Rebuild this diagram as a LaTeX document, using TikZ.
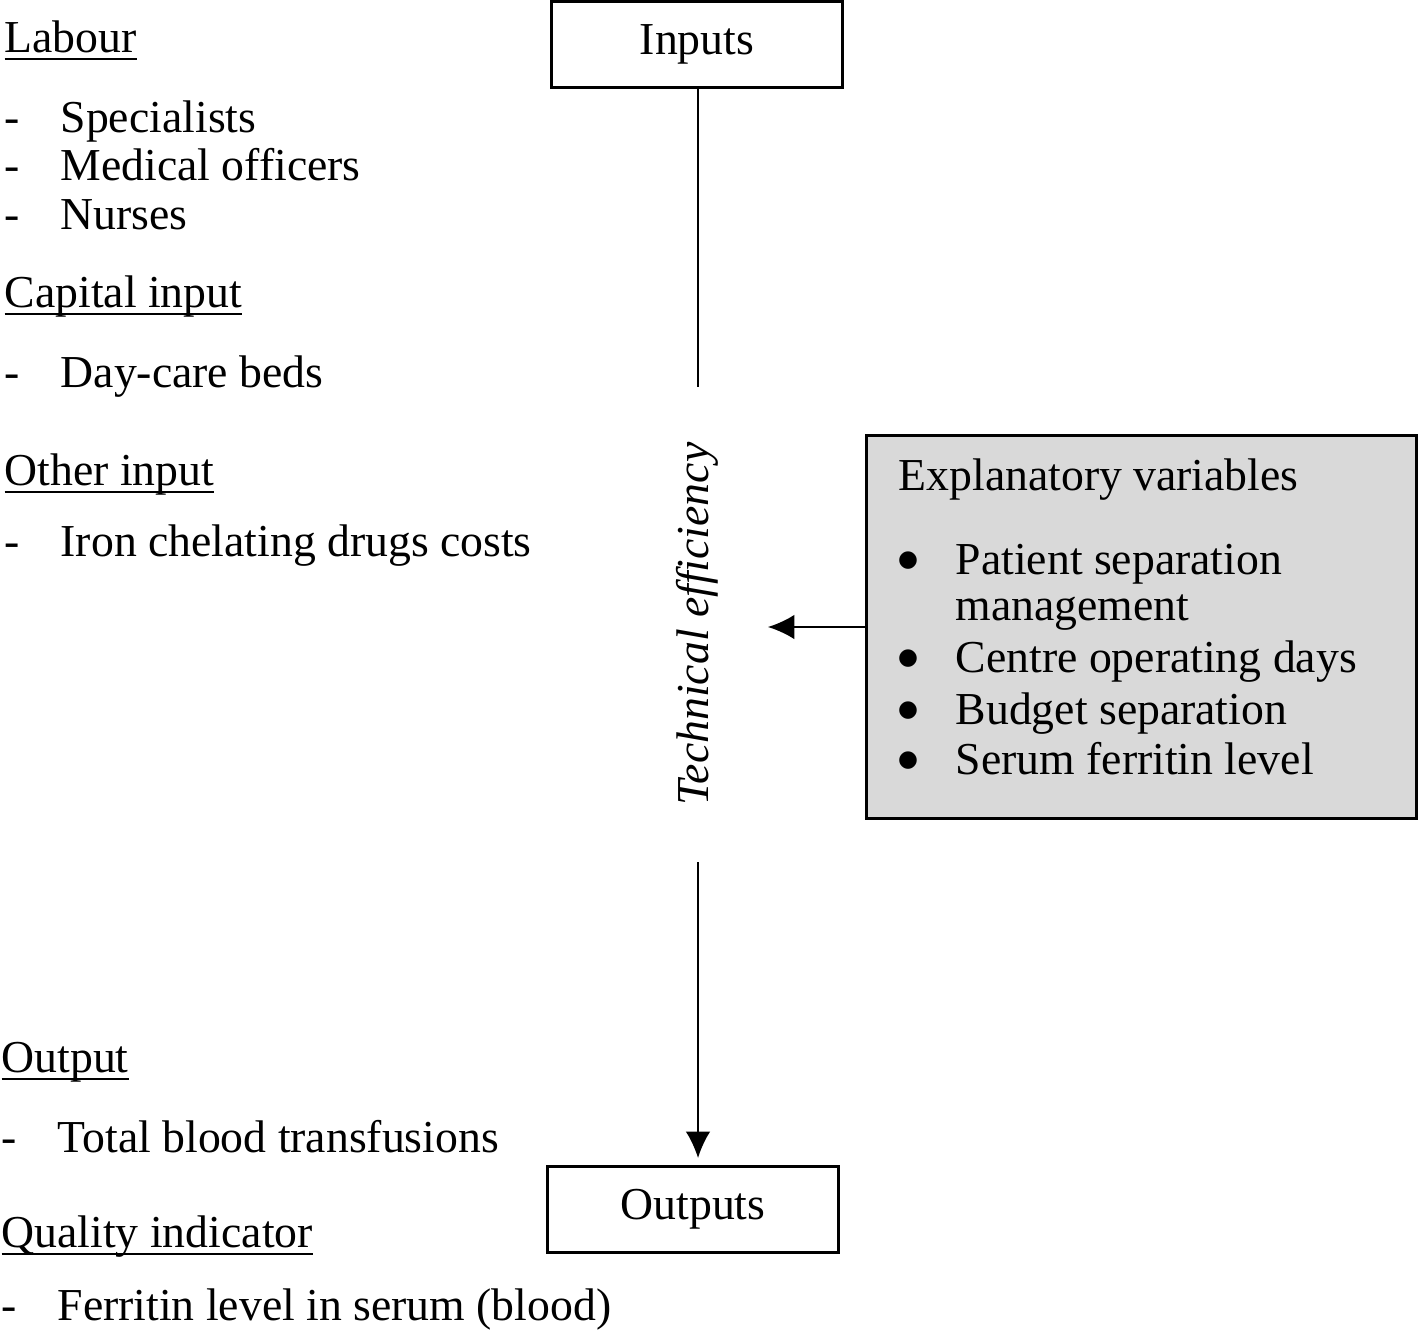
\documentclass[tikz,border=0pt]{standalone}
\usepackage{fontspec}
\setmainfont{Liberation Serif}
\newfontfamily\symfont{DejaVu Sans}
\usetikzlibrary{arrows.meta}
\definecolor{boxgray}{RGB}{217,217,217}
\newcommand\hdr[1]{\setbox0\hbox{#1}\rlap{\rule[-2.3pt]{\wd0}{0.6pt}}\box0}
\tikzset{
	every node/.style={font=\fontsize{13pt}{15pt}\selectfont},
	box/.style={draw,line width=0.85pt,minimum width=2.9cm,minimum height=0.86cm,inner sep=0pt},
	txt/.style={anchor=base west,inner sep=0pt},
	bul/.style={anchor=center,inner sep=0pt,font=\fontsize{6.5pt}{7pt}\symfont},
	flow/.style={line width=0.55pt,-{Latex[length=7.5pt,width=7pt]}}
}
\begin{document}
\begin{tikzpicture}[x=0.01cm,y=-0.01cm]
	\useasboundingbox (0,0) rectangle (1418,1333);
	% main column
	\node[box] (inputs) at (697,44.5) {Inputs};
	\node[box] (outputs) at (693,1209.5) {Outputs};
	\node[rotate=90,inner sep=0pt,font=\fontsize{13pt}{15pt}\selectfont\itshape] (eff) at (697,624) {Technical efficiency};
	\coordinate (top) at (698,387);
	\coordinate (low) at (698,862);
	\coordinate (tip) at (768,627);
	\draw[line width=0.55pt] (inputs.south -| top) -- (top);
	\draw[flow] (low) -- ([yshift=2pt]low |- outputs.north);
	% explanatory variables
	\node[draw,line width=0.85pt,fill=boxgray,minimum width=5.49cm,minimum height=3.82cm,inner sep=0pt] (expl) at (1141.5,627) {};
	\draw[flow] (expl.west) -- (tip);
	\node[txt] (expltitle) at (898,490) {Explanatory variables};
	\foreach \y in {574,672,724,774}
		\node[bul] at (908,\y-13) {●};
	\node[txt] (ev1) at (955,574) {Patient separation};
	\node[txt] (ev1b) at (955,620) {management};
	\node[txt] (ev2) at (955,672) {Centre operating days};
	\node[txt] (ev3) at (955,724) {Budget separation};
	\node[txt] (ev4) at (955,774) {Serum ferritin level};
	% inputs list
	\node[txt] (labour) at (4,52) {\hdr{Labour}};
	\node[txt] (capital) at (4,307) {\hdr{Capital input}};
	\node[txt] (other) at (4,485) {\hdr{Other input}};
	\foreach \y/\t in {132/Specialists,180/Medical officers,229/Nurses,387/Day-care beds,556/Iron chelating drugs costs}{
		\node[txt] at (4,\y) {-};
		\node[txt] at (60,\y) {\t};
	}
	% outputs list
	\node[txt] (output) at (1,1072) {\hdr{Output}};
	\node[txt] (quality) at (1,1247) {\hdr{Quality indicator}};
	\foreach \y/\t in {1152/Total blood transfusions,1320/Ferritin level in serum (blood)}{
		\node[txt] at (1,\y) {-};
		\node[txt] at (57,\y) {\t};
	}
\end{tikzpicture}
\end{document}
